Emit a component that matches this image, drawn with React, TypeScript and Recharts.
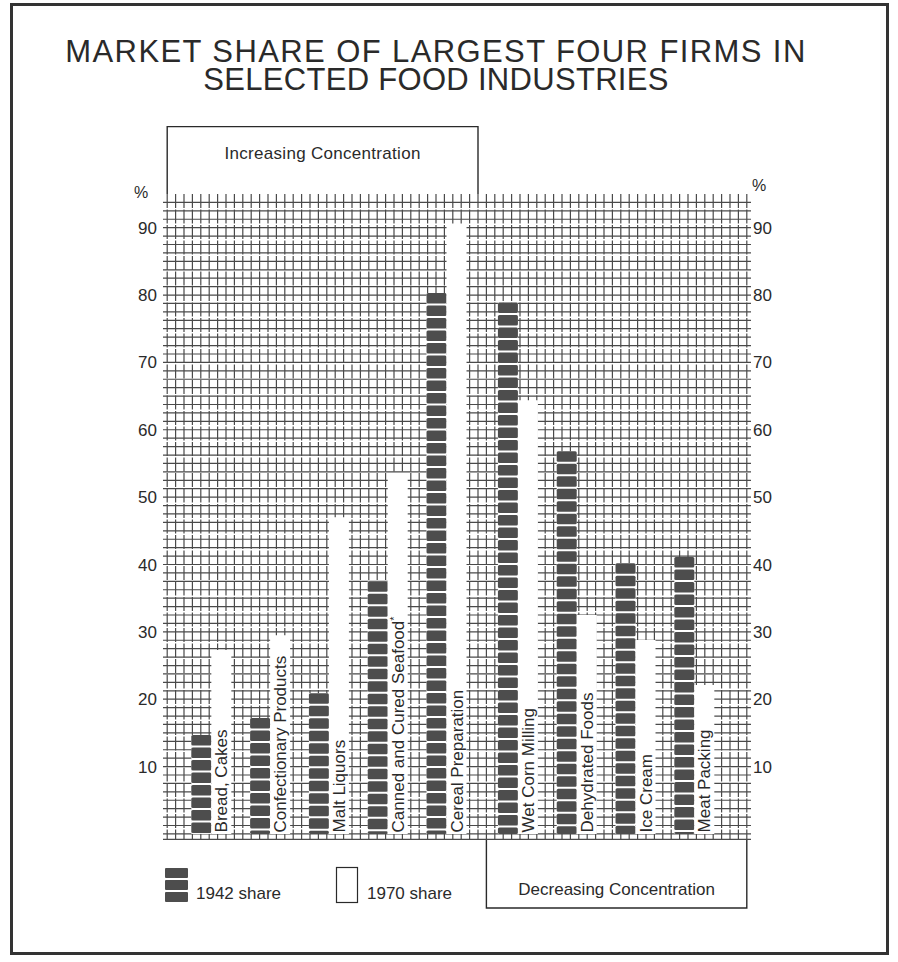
import React from 'react';
import { BarChart, Bar, XAxis, YAxis, CartesianGrid, LabelList, ReferenceArea, Legend } from 'recharts';

const FONT = '"Liberation Sans", Arial, Helvetica, sans-serif';

// ---- data ----
const industries = [
  'Bread, Cakes',
  'Confectionary Products',
  'Malt Liquors',
  'Canned and Cured Seafood*',
  'Cereal Preparation',
  'Wet Corn Milling',
  'Dehydrated Foods',
  'Ice Cream',
  'Meat Packing',
];
const share1942 = [14.7, 17.2, 20.9, 37.5, 80.3, 78.9, 56.8, 40.2, 41.1];
const share1970 = [27.3, 29.5, 47.0, 53.6, 90.4, 64.4, 32.5, 28.8, 22.1];
const yTicks = [10, 20, 30, 40, 50, 60, 70, 80, 90];
const titleLines = ['MARKET SHARE OF LARGEST FOUR FIRMS IN', 'SELECTED FOOD INDUSTRIES'];
const trendLabels = ['Increasing Concentration', 'Decreasing Concentration'];
const legendLabels = ['1942 share', '1970 share'];
const increasingCount = 5;

// ---- layout ----
const W = 898;
const H = 962;
const Y_MIN = -0.9;
const Y_MAX = 95;
const X_MIN = -0.5;
const X_MAX = 69.5;
const AXIS_W = 50;
const MARGIN = { top: 194, right: 97, bottom: 122, left: 113 };
const CAT_START = 5.3;
const CAT_SPACING = 7;
const GROUP_GAP = 1.5;
const GRID_STEP_Y = 1.25;
const GRID_TOP = 93.75;
const GRID_COLS = 69;
const DARK = '#4d4d4d';
const INK = '#2a2a2a';

const chartData = industries.map((name, i) => ({
  name,
  pos: CAT_START + CAT_SPACING * i + (i >= increasingCount ? GROUP_GAP : 0),
  s1942: share1942[i],
  s1970: share1970[i],
}));
const positions = chartData.map((d) => d.pos);

const hGridValues: number[] = [Y_MIN + 0.1];
for (let v = 0; v <= GRID_TOP + 1e-6; v += GRID_STEP_Y) hGridValues.push(v);
const vGridValues: number[] = [];
for (let u = 0; u <= GRID_COLS; u += 1) vGridValues.push(u);

const plotLeft = MARGIN.left + AXIS_W;
const plotTop = MARGIN.top;
const plotW = W - MARGIN.left - MARGIN.right - 2 * AXIS_W;
const plotH = H - MARGIN.top - MARGIN.bottom;

const yPix = (v: number, off?: any) => {
  const t = off && typeof off.top === 'number' ? off.top : plotTop;
  const h = off && typeof off.height === 'number' ? off.height : plotH;
  return t + (h * (Y_MAX - v)) / (Y_MAX - Y_MIN);
};
const xPix = (u: number, off?: any) => {
  const l = off && typeof off.left === 'number' ? off.left : plotLeft;
  const w = off && typeof off.width === 'number' ? off.width : plotW;
  return l + (w * (u - X_MIN)) / (X_MAX - X_MIN);
};

const StripedBar = (props: any) => {
  const { x, y, width, height } = props;
  if (!height || height <= 0) return null;
  const period = 12.5;
  const gap = 2;
  const segs: any[] = [];
  for (let t = 0; t < height - 0.5; t += period) {
    const h = Math.min(period - gap, height - t);
    segs.push(<rect key={t} x={x} y={y + t} width={width} height={h} rx={1.5} fill={DARK} />);
  }
  return (
    <g>
      <rect x={x} y={y} width={width} height={height} fill="#fff" />
      {segs}
    </g>
  );
};

const IndustryLabel = (props: any) => {
  const { x, y, width, height, value } = props;
  const tx = x + width / 2 + 6;
  const ty = y + height - 1.5;
  const s = String(value);
  const star = s.endsWith('*');
  const main = star ? s.slice(0, -1) : s;
  return (
    <text
      x={tx}
      y={ty}
      transform={`rotate(-90 ${tx} ${ty})`}
      fontSize={17}
      fontFamily={FONT}
      fill={INK}
    >
      {main}
      {star ? (
        <tspan fontSize={11} dy={-6}>
          *
        </tspan>
      ) : null}
    </text>
  );
};

const TopBox = (props: any) => {
  const { x, y, width, height } = props;
  return (
    <g>
      <path
        d={`M${x},${y + height} V${y} H${x + width} V${y + height}`}
        fill="none"
        stroke={INK}
        strokeWidth={1.4}
      />
      <text x={x + width / 2} y={y + 32} textAnchor="middle" fontSize={17} fontFamily={FONT} fill={INK} letterSpacing={0.3}>
        {trendLabels[0]}
      </text>
    </g>
  );
};

const BottomBox = (props: any) => {
  const { x, y, width, height } = props;
  return (
    <g>
      <path
        d={`M${x},${y} V${y + height} H${x + width} V${y}`}
        fill="none"
        stroke={INK}
        strokeWidth={1.4}
      />
      <text x={x + width / 2} y={y + height - 13} textAnchor="middle" fontSize={17} fontFamily={FONT} fill={INK}>
        {trendLabels[1]}
      </text>
    </g>
  );
};

const LegendContent = () => (
  <svg width={320} height={46} style={{ display: 'block' }}>
    <rect x={5} y={6} width={23} height={34} fill="#fff" />
    <rect x={5} y={6} width={23} height={10} rx={1} fill={DARK} />
    <rect x={5} y={18} width={23} height={10} rx={1} fill={DARK} />
    <rect x={5} y={30} width={23} height={10} rx={1} fill={DARK} />
    <text x={36} y={37} fontSize={17} fontFamily={FONT} fill={INK}>
      {legendLabels[0]}
    </text>
    <rect x={176.5} y={5.5} width={21} height={35} fill="#fff" stroke={INK} strokeWidth={1.2} />
    <text x={207} y={37} fontSize={17} fontFamily={FONT} fill={INK}>
      {legendLabels[1]}
    </text>
  </svg>
);

export default function App() {
  const tickStyle = { fill: INK, fontSize: 17, fontFamily: FONT };
  return (
    <div style={{ position: 'absolute', left: 0, top: 0, width: W, height: H, background: '#fff' }}>
      <div
        style={{
          position: 'absolute',
          left: 10,
          top: 3,
          width: 873,
          height: 946,
          border: '3px solid #333',
        }}
      />
      <svg width={W} height={H} style={{ position: 'absolute', left: 0, top: 0 }}>
        <text x={436} y={62} textAnchor="middle" fontSize={31} fontFamily={FONT} fill={INK} letterSpacing={1.4}>
          {titleLines[0]}
        </text>
        <text x={436} y={90} textAnchor="middle" fontSize={31} fontFamily={FONT} fill={INK} letterSpacing={0.3}>
          {titleLines[1]}
        </text>
        <text x={141} y={198} textAnchor="middle" fontSize={16} fontFamily={FONT} fill={INK}>
          %
        </text>
        <text x={759} y={191} textAnchor="middle" fontSize={16} fontFamily={FONT} fill={INK}>
          %
        </text>
      </svg>
      <div style={{ position: 'absolute', left: 0, top: 0 }}>
        <BarChart
          width={W}
          height={H}
          data={chartData}
          margin={MARGIN}
          barGap={0}
          baseValue="dataMin"
        >
          <XAxis
            type="number"
            dataKey="pos"
            domain={[X_MIN, X_MAX]}
            ticks={positions}
            allowDataOverflow
            hide
          />
          <YAxis
            type="number"
            orientation="left"
            width={AXIS_W}
            domain={[Y_MIN, Y_MAX]}
            ticks={yTicks}
            allowDataOverflow
            axisLine={false}
            tickLine={false}
            tickSize={4}
            tickMargin={2}
            tick={tickStyle}
            interval={0}
          />
          <YAxis
            yAxisId="r"
            type="number"
            orientation="right"
            width={AXIS_W}
            domain={[Y_MIN, Y_MAX]}
            ticks={yTicks}
            allowDataOverflow
            axisLine={false}
            tickLine={false}
            tickSize={1}
            tickMargin={1}
            tick={tickStyle}
            interval={0}
          />
          <CartesianGrid
            vertical={false}
            horizontalCoordinatesGenerator={(args: any) => hGridValues.map((v) => yPix(v, args && args.offset))}
            stroke="#4a4a4a"
            strokeWidth={1.2}
          />
          <CartesianGrid
            horizontal={false}
            verticalCoordinatesGenerator={(args: any) => vGridValues.map((u) => xPix(u, args && args.offset))}
            stroke="#4a4a4a"
            strokeWidth={1.2}
            strokeDasharray="14 1.5"
          />
          <ReferenceArea
            x1={0}
            x2={37}
            y1={Y_MAX}
            y2={105}
            ifOverflow="visible"
            shape={TopBox}
          />
          <ReferenceArea
            x1={38}
            x2={GRID_COLS}
            y1={-11}
            y2={Y_MIN}
            ifOverflow="visible"
            shape={BottomBox}
          />
          <Bar dataKey="s1942" barSize={20} shape={StripedBar} fill={DARK} isAnimationActive={false} />
          <Bar dataKey="s1970" barSize={20} fill="#fff" isAnimationActive={false}>
            <LabelList dataKey="name" content={IndustryLabel} />
          </Bar>
          <Legend
            layout="vertical"
            align="center"
            verticalAlign="middle"
            content={LegendContent}
            wrapperStyle={{ left: 160, top: 862, width: 320, height: 46 }}
          />
        </BarChart>
      </div>
    </div>
  );
}
